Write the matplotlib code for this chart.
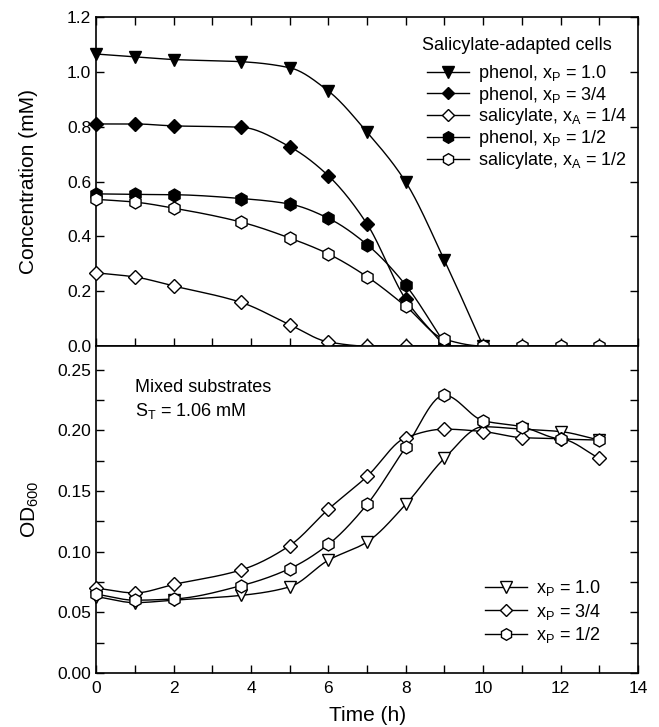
import numpy as np
import matplotlib
matplotlib.use("Agg")
import matplotlib.pyplot as plt
from matplotlib.ticker import MultipleLocator

plt.rcParams['font.family'] = ['Liberation Sans', 'DejaVu Sans']
plt.rcParams['mathtext.fontset'] = 'custom'
plt.rcParams['mathtext.rm'] = 'Liberation Sans'
plt.rcParams['mathtext.it'] = 'Liberation Sans'
plt.rcParams['mathtext.sf'] = 'Liberation Sans'

# ---- Top panel data: concentration (mM), salicylate-adapted cells ----
t_phenol_10 = [0, 1, 2, 3.75, 5, 6, 7, 8, 9, 10]
c_phenol_10 = [1.065, 1.055, 1.045, 1.037, 1.015, 0.93, 0.78, 0.598, 0.313, 0.0]
t_phenol_34 = [0, 1, 2, 3.75, 5, 6, 7, 8, 9]
c_phenol_34 = [0.81, 0.81, 0.803, 0.798, 0.727, 0.621, 0.445, 0.17, 0.0]
t_sal_14 = [0, 1, 2, 3.75, 5, 6, 7, 8, 9]
c_sal_14 = [0.267, 0.252, 0.219, 0.159, 0.078, 0.015, 0.0, 0.0, 0.0]
t_phenol_12 = [0, 1, 2, 3.75, 5, 6, 7, 8, 9]
c_phenol_12 = [0.555, 0.553, 0.552, 0.538, 0.518, 0.466, 0.37, 0.222, 0.01]
t_sal_12 = [0, 1, 2, 3.75, 5, 6, 7, 8, 9, 10, 11, 12, 13]
c_sal_12 = [0.535, 0.525, 0.503, 0.452, 0.394, 0.336, 0.253, 0.145, 0.025, 0.0, 0.0, 0.0, 0.0]

# ---- Bottom panel data: OD600, mixed substrates ----
t_od = [0, 1, 2, 3.75, 5, 6, 7, 8, 9, 10, 11, 12, 13]
od_p10 = [0.063, 0.058, 0.060, 0.064, 0.071, 0.093, 0.108, 0.139, 0.177, 0.203, 0.201, 0.199, 0.192]
od_p34 = [0.070, 0.066, 0.073, 0.085, 0.105, 0.135, 0.162, 0.194, 0.201, 0.199, 0.194, 0.193, 0.177]
od_p12 = [0.065, 0.060, 0.061, 0.072, 0.086, 0.106, 0.139, 0.186, 0.229, 0.208, 0.203, 0.193, 0.192]

top_labels = [r'phenol, x$_\mathregular{P}$ = 1.0', r'phenol, x$_\mathregular{P}$ = 3/4',
              r'salicylate, x$_\mathregular{A}$ = 1/4', r'phenol, x$_\mathregular{P}$ = 1/2',
              r'salicylate, x$_\mathregular{A}$ = 1/2']
bottom_labels = [r'x$_\mathregular{P}$ = 1.0', r'x$_\mathregular{P}$ = 3/4', r'x$_\mathregular{P}$ = 1/2']


def pchip(x, y, n=30):
    """Monotone cubic curve through the data points (for drawing the line only)."""
    x = np.asarray(x, float); y = np.asarray(y, float)
    h = np.diff(x); d = np.diff(y) / h
    m = np.zeros_like(y)
    for k in range(1, len(x) - 1):
        if d[k - 1] * d[k] > 0:
            w1 = 2 * h[k] + h[k - 1]; w2 = h[k] + 2 * h[k - 1]
            m[k] = (w1 + w2) / (w1 / d[k - 1] + w2 / d[k])
    m[0] = d[0]; m[-1] = d[-1]
    xs, ys = [], []
    for k in range(len(x) - 1):
        s = np.linspace(0, 1, n, endpoint=(k == len(x) - 2))
        h00 = 2 * s**3 - 3 * s**2 + 1; h10 = s**3 - 2 * s**2 + s
        h01 = -2 * s**3 + 3 * s**2; h11 = s**3 - s**2
        xs.append(x[k] + s * h[k])
        ys.append(h00 * y[k] + h10 * h[k] * m[k] + h01 * y[k + 1] + h11 * h[k] * m[k + 1])
    return np.concatenate(xs), np.concatenate(ys)


fig = plt.figure(figsize=(6.59, 7.27), dpi=100)
ax1 = fig.add_axes([0.146, 0.524, 0.822, 0.4526])
ax2 = fig.add_axes([0.146, 0.0743, 0.822, 0.4497])

LW = 1.0
MS = 9.3
top_series = [
    (t_phenol_10, c_phenol_10, 'v', 'black', MS),
    (t_phenol_34, c_phenol_34, 'D', 'black', MS * 0.78),
    (t_sal_14, c_sal_14, 'D', 'white', MS * 0.78),
    (t_phenol_12, c_phenol_12, 'h', 'black', MS),
    (t_sal_12, c_sal_12, 'h', 'white', MS),
]
handles = []
for (tx, cy, mk, fc, ms), lab in zip(top_series, top_labels):
    xs, ys = pchip(tx, cy)
    ax1.plot(xs, ys, color='black', lw=LW, clip_on=False)
    ax1.plot(tx, cy, ls='none', marker=mk, mfc=fc, mec='black', mew=1.0, ms=ms, clip_on=False, zorder=3)
    handles.append(plt.Line2D([], [], color='black', lw=LW, marker=mk, mfc=fc, mec='black', mew=1.0, ms=ms * 0.9, label=lab))

bot_series = [
    (t_od, od_p10, 'v', MS),
    (t_od, od_p34, 'D', MS * 0.78),
    (t_od, od_p12, 'h', MS),
]
handles2 = []
for (tx, cy, mk, ms), lab in zip(bot_series, bottom_labels):
    xs, ys = pchip(tx, cy)
    ax2.plot(xs, ys, color='black', lw=LW, clip_on=False)
    ax2.plot(tx, cy, ls='none', marker=mk, mfc='white', mec='black', mew=1.0, ms=ms, zorder=3, clip_on=False)
    handles2.append(plt.Line2D([], [], color='black', lw=LW, marker=mk, mfc='white', mec='black', mew=1.0, ms=ms * 0.9, label=lab))

for ax in (ax1, ax2):
    ax.set_xlim(0, 14)
    for s in ax.spines.values():
        s.set_linewidth(1.2)
        s.set_zorder(2.5)
    ax.tick_params(which='both', direction='in', length=5.5, width=1.0, labelsize=12.5, right=True)

ax1.set_ylim(0, 1.2)
ax1.xaxis.set_major_locator(MultipleLocator(1))
ax1.tick_params(axis='x', top=True, bottom=True, labelbottom=False)
ax1.set_yticks(np.arange(0, 1.21, 0.2))
ax1.set_yticklabels(['%.1f' % v for v in np.arange(0, 1.21, 0.2)])
ax1.set_ylabel('Concentration (mM)', fontsize=15, labelpad=21)

ax2.set_ylim(0, 0.2695)
ax2.set_yticks(np.arange(0, 0.251, 0.05))
ax2.set_yticklabels(['%.2f' % v for v in np.arange(0, 0.251, 0.05)])
ax2.yaxis.set_minor_locator(MultipleLocator(0.025))
ax2.xaxis.set_major_locator(MultipleLocator(2))
ax2.xaxis.set_minor_locator(MultipleLocator(1))
ax2.tick_params(axis='x', top=False, which='both', pad=6)
ax2.set_xlabel('Time (h)', fontsize=15, labelpad=7)
ax2.set_ylabel(r'OD$_\mathregular{600}$', fontsize=15, labelpad=12)

fig.text(422 / 659, 1 - 45 / 727, 'Salicylate-adapted cells', fontsize=13, va='center', ha='left')
ax1.legend(handles=handles, loc='upper left', bbox_to_anchor=(427 / 659, 1 - 63 / 727),
           bbox_transform=fig.transFigure, frameon=False, fontsize=13,
           handlelength=2.3, handletextpad=0.5, labelspacing=0.04, borderpad=0, borderaxespad=0)

ax2.text(135 / 659, 1 - 388 / 727, 'Mixed substrates', fontsize=13, va='center', ha='left', transform=fig.transFigure)
ax2.text(135 / 659, 1 - 411 / 727, r'S$_\mathregular{T}$ = 1.06 mM', fontsize=13, va='center', ha='left', transform=fig.transFigure)
ax2.legend(handles=handles2, loc='upper left', bbox_to_anchor=(485 / 659, 1 - 578 / 727),
           bbox_transform=fig.transFigure, frameon=False, fontsize=13,
           handlelength=2.3, handletextpad=0.5, labelspacing=0.2, borderpad=0, borderaxespad=0)

fig.savefig('out.png', dpi=100)
